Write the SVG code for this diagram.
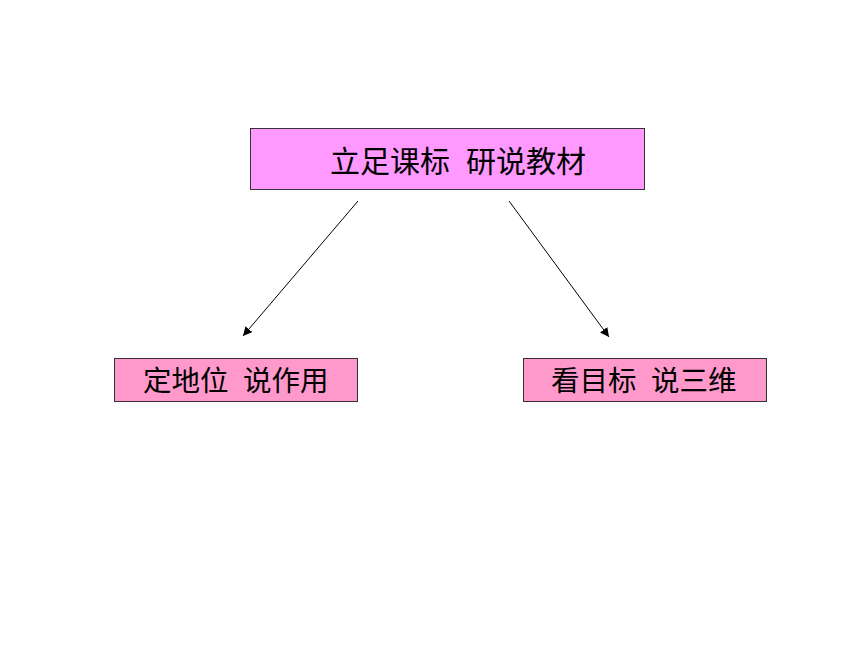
<svg xmlns="http://www.w3.org/2000/svg" width="860" height="645" viewBox="0 0 860 645">
<style>
.box{stroke:#333333;stroke-width:1}
.top{fill:#FF99FF}
.sub{fill:#FF99CC}
.lbl{font-family:"Noto Sans CJK SC","Liberation Sans",sans-serif;fill:#000;font-weight:normal}
.big{font-size:30px}
.small{font-size:28.5px}
.edge{stroke:#000;stroke-width:1;fill:none;marker-end:url(#ah)}
</style>
<defs>
<marker id="ah" viewBox="0 0 10 10" refX="10" refY="5" markerWidth="9" markerHeight="9" markerUnits="userSpaceOnUse" orient="auto">
<path d="M0,0 L10,5 L0,10 z" fill="#000"/>
</marker>
</defs>
<rect width="860" height="645" fill="#fff"/>
<g id="connectors">
<line class="edge" x1="358" y1="201" x2="243" y2="336"/>
<line class="edge" x1="509" y1="201" x2="609" y2="337"/>
</g>
<g id="node-top">
<rect class="box top" x="250.5" y="128.5" width="394" height="61"/>
<text class="lbl big" y="172"><tspan x="330">立足课标</tspan><tspan x="466">研说教材</tspan></text>
</g>
<g id="node-left">
<rect class="box sub" x="114.5" y="358.5" width="243" height="43"/>
<text class="lbl small" y="391"><tspan x="143">定地位</tspan><tspan x="243">说作用</tspan></text>
</g>
<g id="node-right">
<rect class="box sub" x="523.5" y="358.5" width="243" height="43"/>
<text class="lbl small" y="391"><tspan x="551">看目标</tspan><tspan x="651">说三维</tspan></text>
</g>
</svg>
